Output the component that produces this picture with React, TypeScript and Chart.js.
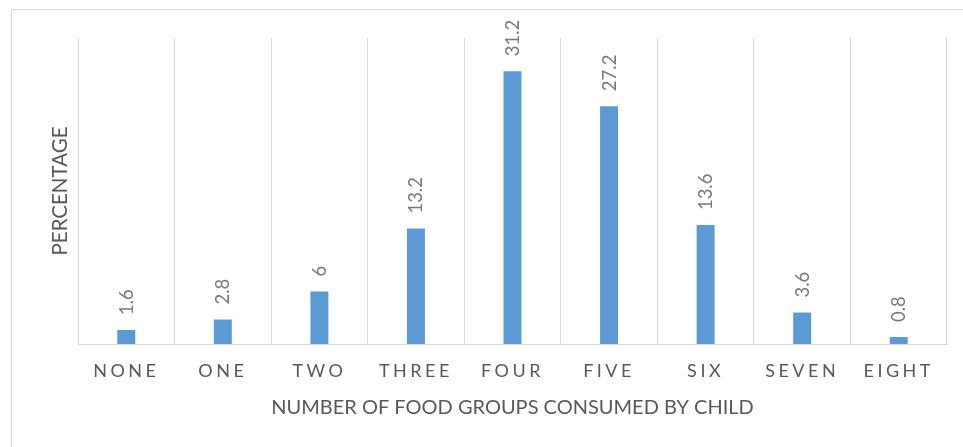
import { useEffect, useRef } from 'react';
import { Chart, registerables } from 'chart.js';

Chart.register(...registerables);

const categories = ['NONE', 'ONE', 'TWO', 'THREE', 'FOUR', 'FIVE', 'SIX', 'SEVEN', 'EIGHT'];
const percentages = [1.6, 2.8, 6, 13.2, 31.2, 27.2, 13.6, 3.6, 0.8];
const valueLabels = ['1.6', '2.8', '6', '13.2', '31.2', '27.2', '13.6', '3.6', '0.8'];
const xTitle = 'NUMBER OF FOOD GROUPS CONSUMED BY CHILD';
const yTitle = 'PERCENTAGE';
const yMin = 0;
const yMax = 35;

const FONT = 'Lato, "Open Sans", sans-serif';

const framePlugin = {
  id: 'frame',
  beforeDraw(chart: any) {
    const ctx = chart.ctx;
    ctx.save();
    ctx.strokeStyle = '#d9d9d9';
    ctx.lineWidth = 1;
    ctx.strokeRect(11.5, 9.5, 1200, 1200);
    ctx.restore();
  },
};

const valueLabelPlugin = {
  id: 'valueLabels',
  afterDatasetsDraw(chart: any) {
    const ctx = chart.ctx;
    const meta = chart.getDatasetMeta(0);
    ctx.save();
    ctx.fillStyle = '#7a7a7a';
    ctx.font = `18.5px ${FONT}`;
    ctx.textAlign = 'left';
    ctx.textBaseline = 'middle';
    meta.data.forEach((bar: any, i: number) => {
      ctx.save();
      ctx.translate(bar.x + 0.5, bar.y - 15);
      ctx.rotate(-Math.PI / 2);
      ctx.fillText(valueLabels[i], 0, 0);
      ctx.restore();
    });
    ctx.restore();
    // letter spacing for the category tick labels drawn after datasets (z: 1)
    try { ctx.letterSpacing = '3.5px'; } catch (e) { /* ignore */ }
  },
  afterDraw(chart: any) {
    try { chart.ctx.letterSpacing = '0px'; } catch (e) { /* ignore */ }
  },
};

export default function App() {
  const ref = useRef<HTMLCanvasElement | null>(null);

  useEffect(() => {
    if (!ref.current) return;
    const chart = new Chart(ref.current, {
      type: 'bar',
      data: {
        labels: categories,
        datasets: [
          {
            data: percentages,
            backgroundColor: '#5b9bd5',
            borderWidth: 0,
            barPercentage: 1,
            categoryPercentage: 0.186,
          },
        ],
      },
      options: {
        animation: false,
        responsive: true,
        maintainAspectRatio: false,
        layout: { padding: { top: 38, right: 16, left: 0, bottom: 0 } },
        plugins: {
          legend: { display: false },
          tooltip: { enabled: false },
        },
        scales: {
          x: {
            offset: true,
            grid: { display: true, color: '#d9d9d9', drawTicks: false, offset: true, lineWidth: 1 },
            border: { display: true, color: '#d9d9d9', width: 1 },
            ticks: {
              color: '#595959',
              font: { family: FONT, size: 18 },
              padding: 16,
              z: 1,
              maxRotation: 0,
              autoSkip: false,
            },
            title: {
              display: true,
              text: xTitle,
              color: '#595959',
              font: { family: FONT, size: 20 },
              padding: { top: 0, bottom: 27 },
            },
            afterFit: (s: any) => {
              s.height = 103;
            },
          },
          y: {
            min: yMin,
            max: yMax,
            grid: { display: false },
            border: { display: false },
            ticks: { display: false },
            title: {
              display: true,
              text: yTitle,
              color: '#595959',
              font: { family: FONT, size: 20.5 },
              padding: { top: 48, bottom: 0 },
            },
            afterFit: (s: any) => {
              s.width = 78;
            },
          },
        },
      },
      plugins: [framePlugin, valueLabelPlugin],
    } as any);
    return () => chart.destroy();
  }, []);

  return (
    <div style={{ position: 'fixed', left: 0, top: 0, width: 963, height: 447 }}>
      <canvas ref={ref} />
    </div>
  );
}
